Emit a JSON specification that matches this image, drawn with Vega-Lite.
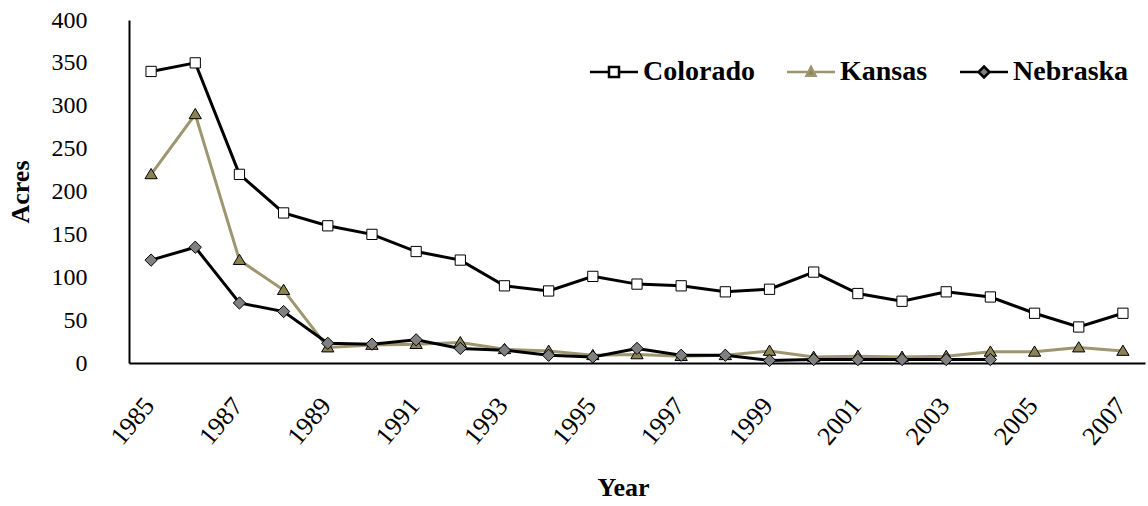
{
  "$schema": "https://vega.github.io/schema/vega-lite/v6.json",
  "width": 1016,
  "height": 343,
  "autosize": "none",
  "padding": {"left": 129, "top": 20, "right": 3, "bottom": 143},
  "background": "white",
  "config": {"font": "Liberation Serif", "view": {"stroke": null}},
  "data": {"values": [
    {"year": 1985, "state": "Colorado", "acres": 340},
    {"year": 1986, "state": "Colorado", "acres": 350},
    {"year": 1987, "state": "Colorado", "acres": 220},
    {"year": 1988, "state": "Colorado", "acres": 175},
    {"year": 1989, "state": "Colorado", "acres": 160},
    {"year": 1990, "state": "Colorado", "acres": 150},
    {"year": 1991, "state": "Colorado", "acres": 130},
    {"year": 1992, "state": "Colorado", "acres": 120},
    {"year": 1993, "state": "Colorado", "acres": 90},
    {"year": 1994, "state": "Colorado", "acres": 84},
    {"year": 1995, "state": "Colorado", "acres": 101},
    {"year": 1996, "state": "Colorado", "acres": 92},
    {"year": 1997, "state": "Colorado", "acres": 90},
    {"year": 1998, "state": "Colorado", "acres": 83},
    {"year": 1999, "state": "Colorado", "acres": 86},
    {"year": 2000, "state": "Colorado", "acres": 106},
    {"year": 2001, "state": "Colorado", "acres": 81},
    {"year": 2002, "state": "Colorado", "acres": 72},
    {"year": 2003, "state": "Colorado", "acres": 83},
    {"year": 2004, "state": "Colorado", "acres": 77},
    {"year": 2005, "state": "Colorado", "acres": 58},
    {"year": 2006, "state": "Colorado", "acres": 42},
    {"year": 2007, "state": "Colorado", "acres": 58},
    {"year": 1985, "state": "Kansas", "acres": 220},
    {"year": 1986, "state": "Kansas", "acres": 290},
    {"year": 1987, "state": "Kansas", "acres": 120},
    {"year": 1988, "state": "Kansas", "acres": 85},
    {"year": 1989, "state": "Kansas", "acres": 18},
    {"year": 1990, "state": "Kansas", "acres": 21},
    {"year": 1991, "state": "Kansas", "acres": 22},
    {"year": 1992, "state": "Kansas", "acres": 24},
    {"year": 1993, "state": "Kansas", "acres": 16},
    {"year": 1994, "state": "Kansas", "acres": 14},
    {"year": 1995, "state": "Kansas", "acres": 9},
    {"year": 1996, "state": "Kansas", "acres": 10},
    {"year": 1997, "state": "Kansas", "acres": 8},
    {"year": 1998, "state": "Kansas", "acres": 9},
    {"year": 1999, "state": "Kansas", "acres": 14},
    {"year": 2000, "state": "Kansas", "acres": 7},
    {"year": 2001, "state": "Kansas", "acres": 8},
    {"year": 2002, "state": "Kansas", "acres": 7},
    {"year": 2003, "state": "Kansas", "acres": 8},
    {"year": 2004, "state": "Kansas", "acres": 13},
    {"year": 2005, "state": "Kansas", "acres": 13},
    {"year": 2006, "state": "Kansas", "acres": 18},
    {"year": 2007, "state": "Kansas", "acres": 14},
    {"year": 1985, "state": "Nebraska", "acres": 120},
    {"year": 1986, "state": "Nebraska", "acres": 135},
    {"year": 1987, "state": "Nebraska", "acres": 70},
    {"year": 1988, "state": "Nebraska", "acres": 60},
    {"year": 1989, "state": "Nebraska", "acres": 23},
    {"year": 1990, "state": "Nebraska", "acres": 22},
    {"year": 1991, "state": "Nebraska", "acres": 27},
    {"year": 1992, "state": "Nebraska", "acres": 17},
    {"year": 1993, "state": "Nebraska", "acres": 15},
    {"year": 1994, "state": "Nebraska", "acres": 9},
    {"year": 1995, "state": "Nebraska", "acres": 7},
    {"year": 1996, "state": "Nebraska", "acres": 17},
    {"year": 1997, "state": "Nebraska", "acres": 9},
    {"year": 1998, "state": "Nebraska", "acres": 9},
    {"year": 1999, "state": "Nebraska", "acres": 3},
    {"year": 2000, "state": "Nebraska", "acres": 4},
    {"year": 2001, "state": "Nebraska", "acres": 4},
    {"year": 2002, "state": "Nebraska", "acres": 4},
    {"year": 2003, "state": "Nebraska", "acres": 4},
    {"year": 2004, "state": "Nebraska", "acres": 4}
  ]},
  "encoding": {
    "x": {
      "field": "year", "type": "quantitative",
      "scale": {"domain": [1984.5, 2007.5], "nice": false, "zero": false},
      "axis": {
        "values": [1985, 1987, 1989, 1991, 1993, 1995, 1997, 1999, 2001, 2003, 2005, 2007],
        "format": "d", "labelAngle": -50, "labelAlign": "right", "labelBaseline": "middle",
        "labelOffset": -2, "labelPadding": 38, "labelFontSize": 26, "labelColor": "black",
        "labelFont": "Liberation Serif",
        "ticks": false, "grid": false, "domainColor": "black", "domainWidth": 2,
        "title": "Year", "titleFontSize": 26, "titleFontWeight": "bold", "titleColor": "black",
        "titleFont": "Liberation Serif", "titleX": 494,
        "titlePadding": 25, "labelFlush": false, "labelOverlap": false
      }
    },
    "y": {
      "field": "acres", "type": "quantitative",
      "scale": {"domain": [0, 400], "nice": false},
      "axis": {
        "values": [0, 50, 100, 150, 200, 250, 300, 350, 400],
        "labelFontSize": 24, "labelColor": "black", "labelPadding": 42,
        "labelFont": "Liberation Serif",
        "ticks": false, "grid": false, "domainColor": "black", "domainWidth": 2,
        "title": "Acres", "titleFontSize": 26, "titleFontWeight": "bold", "titleColor": "black",
        "titleFont": "Liberation Serif",
        "titlePadding": 18, "labelFlush": false, "labelOverlap": false
      }
    }
  },
  "layer": [
    {
      "mark": {"type": "line", "strokeWidth": 3},
      "encoding": {
        "stroke": {
          "field": "state", "type": "nominal",
          "scale": {"domain": ["Colorado", "Kansas", "Nebraska"], "range": ["black", "#9e9670", "black"]},
          "legend": {
            "orient": "none", "legendX": 471, "legendY": 38, "direction": "horizontal",
            "padding": 0, "title": null, "symbolType": "M-4.8,0H-0.9M0.9,0H4.8", "symbolSize": 100,
            "symbolStrokeWidth": 3, "symbolFillColor": "transparent",
            "labelFontSize": 28, "labelFontWeight": "bold", "labelColor": "black",
            "labelFont": "Liberation Serif",
            "labelOffset": 15, "columnPadding": 27,
            "encode": {
              "symbols": {
                "update": {
                  "shape": {"signal": "datum.value === 'Colorado' ? 'M-4.8,0H-1M1,0H4.8M-1,-1H1V1H-1Z' : datum.value === 'Kansas' ? 'M-4.8,0H-0.7M0.7,0H4.8M0,-1L0.9,0.75H-0.9Z' : 'M-4.8,0H-1.1M1.1,0H4.8M0,-1.1L1.1,0L0,1.1L-1.1,0Z'"},
                  "fill": {"signal": "datum.value === 'Colorado' ? 'white' : datum.value === 'Kansas' ? '#8c8354' : '#808080'"},
                  "strokeWidth": {"value": 2.5}
                }
              }
            }
          }
        }
      }
    },
    {
      "mark": {"type": "point", "filled": true, "size": 105, "stroke": "black", "strokeWidth": 1, "opacity": 1},
      "encoding": {
        "shape": {
          "field": "state", "type": "nominal",
          "scale": {"range": ["M-1,-1H1V1H-1Z", "M0,-1.15L1.2,0.85H-1.2Z", "M0,-1.2L1.2,0L0,1.2L-1.2,0Z"]},
          "legend": null
        },
        "fill": {
          "field": "state", "type": "nominal",
          "scale": {"range": ["white", "#8c8354", "#808080"]},
          "legend": null
        }
      }
    }
  ]
}
